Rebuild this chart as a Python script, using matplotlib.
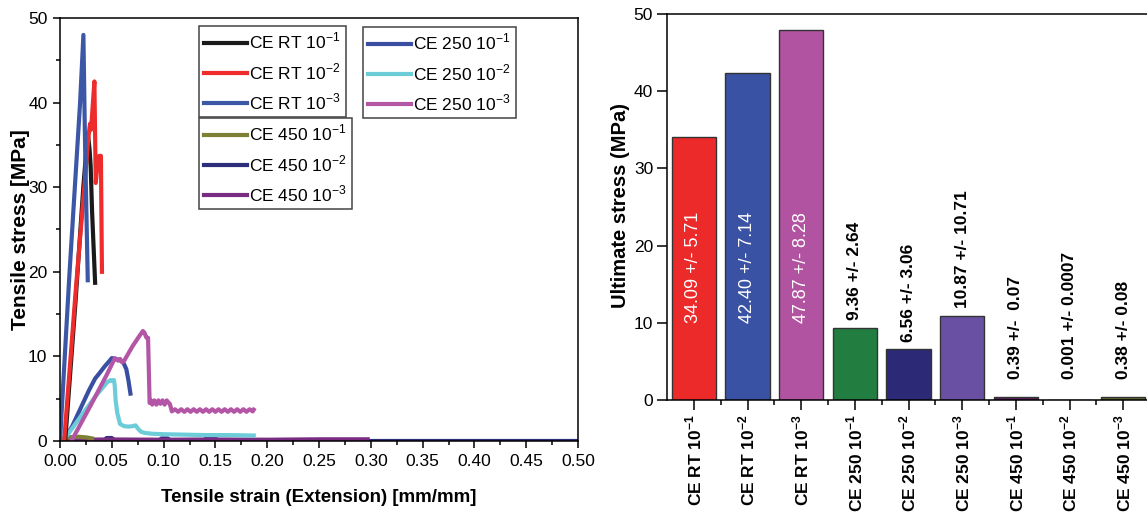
import matplotlib
matplotlib.use('Agg')
import matplotlib.pyplot as plt
from matplotlib.ticker import MultipleLocator

W, H = 1147, 514

# tensile curves: strain [mm/mm], stress [MPa]
rt1_x = [0.005, 0.015, 0.0225, 0.0268, 0.0285, 0.0296, 0.031, 0.0339]
rt1_y = [0.0, 16.5, 30.0, 36.4, 34.5, 32.5, 27.0, 18.7]
rt2_x = [0.004, 0.015, 0.0275, 0.029, 0.030, 0.0332, 0.0345, 0.0365, 0.0378, 0.0395, 0.0400, 0.0405]
rt2_y = [0.0, 17.5, 36.0, 37.5, 36.8, 42.5, 30.5, 33.0, 33.7, 33.7, 26.5, 20.0]
rt3_x = [0.0, 0.009, 0.0194, 0.0226, 0.0238, 0.0245, 0.0268]
rt3_y = [0.0, 19.5, 40.0, 48.0, 38.0, 33.0, 19.0]

c250_1_x = [0.004, 0.012, 0.020, 0.028, 0.034, 0.038, 0.043, 0.048, 0.050, 0.053, 0.057, 0.061, 0.064, 0.066, 0.068]
c250_1_y = [0.0, 1.8, 3.9, 6.0, 7.4, 8.0, 8.8, 9.5, 9.8, 9.7, 9.6, 9.3, 8.5, 7.2, 5.6]
c250_2_x = [0.003, 0.020, 0.035, 0.046, 0.049, 0.0505, 0.052, 0.0528, 0.0537, 0.0553, 0.058, 0.062,
            0.066, 0.070, 0.073, 0.075, 0.078, 0.082, 0.090, 0.100, 0.120, 0.140, 0.160, 0.187]
c250_2_y = [0.0, 2.9, 5.4, 7.0, 7.2, 7.1, 7.2, 6.6, 4.8, 3.3, 2.0, 1.75,
            1.7, 1.75, 1.85, 1.5, 1.1, 0.95, 0.85, 0.8, 0.75, 0.7, 0.7, 0.65]
c250_3_x = [0.011, 0.030, 0.045, 0.053, 0.056, 0.058, 0.060, 0.062, 0.070, 0.076, 0.080, 0.0815,
            0.0835, 0.085, 0.0865, 0.0875, 0.089, 0.091, 0.093, 0.095, 0.097, 0.099, 0.101, 0.103,
            0.105, 0.106, 0.108, 0.111, 0.114, 0.117, 0.120, 0.123, 0.126, 0.129, 0.132, 0.135,
            0.138, 0.141, 0.144, 0.147, 0.150, 0.153, 0.156, 0.159, 0.162, 0.165, 0.168, 0.171,
            0.174, 0.177, 0.180, 0.183, 0.186, 0.187]
c250_3_y = [0.0, 4.3, 7.8, 9.8, 9.5, 9.7, 9.3, 9.5, 11.2, 12.3, 13.0, 12.8,
            12.2, 12.2, 4.5, 4.8, 4.3, 4.8, 4.3, 4.8, 4.4, 4.8, 4.3, 4.8,
            4.5, 4.4, 3.5, 3.75, 3.45, 3.75, 3.45, 3.75, 3.45, 3.75, 3.45, 3.75,
            3.45, 3.75, 3.45, 3.75, 3.45, 3.75, 3.45, 3.75, 3.45, 3.75, 3.45, 3.75,
            3.45, 3.75, 3.45, 3.75, 3.5, 3.7]

c450_1_x = [0.0, 0.004, 0.010, 0.018, 0.026, 0.031]
c450_1_y = [0.0, 0.3, 0.45, 0.5, 0.42, 0.3]
c450_2_x = [0.0, 0.042, 0.045, 0.050, 0.053, 0.095, 0.098, 0.104, 0.107, 0.138, 0.141, 0.150, 0.153, 0.300, 0.500]
c450_2_y = [0.0, 0.0, 0.35, 0.35, 0.0, 0.0, 0.3, 0.3, 0.0, 0.0, 0.3, 0.3, 0.0, 0.0, 0.0]
c450_3_x = [0.0, 0.010, 0.050, 0.100, 0.150, 0.200, 0.250, 0.297]
c450_3_y = [0.0, 0.15, 0.18, 0.15, 0.18, 0.15, 0.2, 0.2]

# ultimate stress bar chart
bar_labels = ['CE RT 10$^{\\mathregular{-1}}$', 'CE RT 10$^{\\mathregular{-2}}$', 'CE RT 10$^{\\mathregular{-3}}$',
              'CE 250 10$^{\\mathregular{-1}}$', 'CE 250 10$^{\\mathregular{-2}}$', 'CE 250 10$^{\\mathregular{-3}}$',
              'CE 450 10$^{\\mathregular{-1}}$', 'CE 450 10$^{\\mathregular{-2}}$', 'CE 450 10$^{\\mathregular{-3}}$']
bar_values = [34.09, 42.40, 47.87, 9.36, 6.56, 10.87, 0.39, 0.001, 0.38]
bar_texts = ['34.09 +/- 5.71', '42.40 +/- 7.14', '47.87 +/- 8.28', '9.36 +/- 2.64', '6.56 +/- 3.06',
             '10.87 +/- 10.71', '0.39 +/-  0.07', '0.001 +/- 0.0007', '0.38 +/- 0.08']
bar_colors = ['#ED2A2A', '#3A52A3', '#B253A1', '#217E40', '#2C2A76', '#6A50A2', '#5E2060', '#444444', '#5F6A2A']

plt.rcParams['font.family'] = ['Liberation Sans', 'DejaVu Sans']
plt.rcParams['axes.linewidth'] = 1.1

fig = plt.figure(figsize=(W / 100, H / 100), dpi=100)

def px_axes(x0, y0, x1, y1):
    return fig.add_axes([x0 / W, 1 - y1 / H, (x1 - x0) / W, (y1 - y0) / H])

# ---------- left: stress-strain curves ----------
ax = px_axes(60, 18, 578, 441)
lw = 3.0
l_n2, = ax.plot(c450_2_x, c450_2_y, color='#2C2E7C', lw=lw, label='CE 450 10$^{\\mathregular{-2}}$')
l_n3, = ax.plot(c450_3_x, c450_3_y, color='#7A2B82', lw=lw, label='CE 450 10$^{\\mathregular{-3}}$')
l_n1, = ax.plot(c450_1_x, c450_1_y, color='#7E8035', lw=lw, label='CE 450 10$^{\\mathregular{-1}}$')
l_a1, = ax.plot(c250_1_x, c250_1_y, color='#3B4FA2', lw=lw, label='CE 250 10$^{\\mathregular{-1}}$')
l_a2, = ax.plot(c250_2_x, c250_2_y, color='#6CCDD8', lw=lw, label='CE 250 10$^{\\mathregular{-2}}$')
l_a3, = ax.plot(c250_3_x, c250_3_y, color='#B356A6', lw=lw, label='CE 250 10$^{\\mathregular{-3}}$')
l_r1, = ax.plot(rt1_x, rt1_y, color='#1A1A1A', lw=lw, label='CE RT 10$^{\\mathregular{-1}}$')
l_r2, = ax.plot(rt2_x, rt2_y, color='#EE2C2C', lw=lw, label='CE RT 10$^{\\mathregular{-2}}$')
l_r3, = ax.plot(rt3_x, rt3_y, color='#3D57A7', lw=lw, label='CE RT 10$^{\\mathregular{-3}}$')

ax.set_xlim(0, 0.5)
ax.set_ylim(0, 50)
ax.xaxis.set_major_locator(MultipleLocator(0.05))
ax.xaxis.set_minor_locator(MultipleLocator(0.025))
ax.yaxis.set_major_locator(MultipleLocator(10))
ax.yaxis.set_minor_locator(MultipleLocator(5))
ax.xaxis.set_major_formatter(plt.FormatStrFormatter('%.2f'))
ax.tick_params(which='major', direction='out', length=5, width=1.1, labelsize=12.5, pad=4)
ax.tick_params(which='minor', direction='out', length=3, width=1.1)
ax.set_xlabel('Tensile strain (Extension) [mm/mm]', fontweight='bold', fontsize=13.5)
ax.set_ylabel('Tensile stress [MPa]', fontweight='bold', fontsize=15)
ax.xaxis.set_label_coords(0.5, -0.113)
ax.yaxis.set_label_coords(-0.058, 0.5)

leg_kw = dict(loc='upper left', bbox_transform=fig.transFigure, handlelength=2.45,
              handletextpad=0.15, borderpad=0.3, labelspacing=0.55, borderaxespad=0,
              fancybox=False, framealpha=1, edgecolor='#444444', fontsize=12.5)
leg1 = ax.legend(handles=[l_r1, l_r2, l_r3], bbox_to_anchor=(199 / W, 1 - 26 / H), **leg_kw)
ax.add_artist(leg1)
leg2 = ax.legend(handles=[l_n1, l_n2, l_n3], bbox_to_anchor=(199 / W, 1 - 118 / H), **leg_kw)
ax.add_artist(leg2)
leg3 = ax.legend(handles=[l_a1, l_a2, l_a3], bbox_to_anchor=(363 / W, 1 - 27 / H), **leg_kw)
for leg in (leg1, leg2, leg3):
    leg.get_frame().set_linewidth(1.1)

# ---------- right: ultimate stress bars ----------
bx = px_axes(667, 14, 1150, 400)
pos = list(range(1, len(bar_values) + 1))
bx.bar(pos, bar_values, width=0.82, color=bar_colors, edgecolor='#333333', linewidth=1.0)
for p, v, s in zip(pos, bar_values, bar_texts):
    if v > 20:
        bx.text(p, 10, s, rotation=90, ha='center', va='bottom', color='white', fontsize=13)
    else:
        bx.text(p, max(v + 1.0, 2.7), s, rotation=90, ha='center', va='bottom', color='black',
                fontsize=12.5, fontweight='bold')
bx.set_xlim(0.5, 9.5)
bx.set_ylim(0, 50)
bx.set_xticks(pos)
bx.set_xticklabels(bar_labels, rotation=90, fontweight='bold', fontsize=10.5)
bx.set_xticks([p + 0.5 for p in pos[:-1]], minor=True)
bx.yaxis.set_major_locator(MultipleLocator(10))
bx.tick_params(which='major', direction='out', length=7, width=1.1, labelsize=12.5, pad=3)
bx.tick_params(which='minor', direction='out', length=3.5, width=1.1)
bx.spines['right'].set_visible(False)
bx.set_ylabel('Ultimate stress (MPa)', fontweight='bold', fontsize=14.5)
bx.yaxis.set_label_coords(-0.077, 0.503)

fig.savefig('out.png', dpi=100)
